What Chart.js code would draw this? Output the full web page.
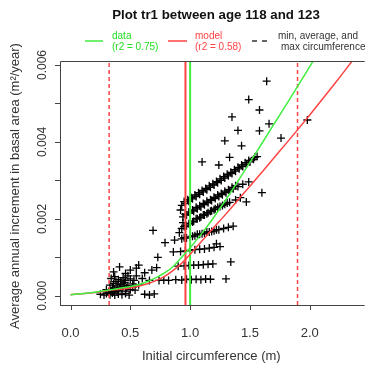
<!DOCTYPE html>
<html><head><meta charset="utf-8">
<script src="https://cdn.jsdelivr.net/npm/chart.js@4/dist/chart.umd.min.js"></script>
<style>html,body{margin:0;padding:0;background:#fff;}#wrap{width:368px;height:365px;position:relative;}</style>
</head><body><div id="wrap"><canvas id="c" width="368" height="365"></canvas></div>
<script>
const titleText = "Plot tr1 between age 118 and 123";
const xTitle = "Initial circumference (m)";
const yTitle = "Average annual increment in basal area (m\u00B2/year)";
const xTicks = [0, 0.5, 1.0, 1.5, 2.0];
const xTickLabels = ["0.0", "0.5", "1.0", "1.5", "2.0"];
const yTicks = [0, 0.001, 0.002, 0.003, 0.004, 0.005, 0.006];
const yTickLabels = ["0.000", "", "0.002", "", "0.004", "", "0.006"];
const legendLabels = ["data", "(r2 = 0.75)", "model", "(r2 = 0.58)", "min, average, and", "max circumference"];

// vertical reference lines (circumference, m)
const minCirc = 0.323;
const avgCircModel = 0.961;
const avgCircData = 1.0;
const maxCirc = 1.898;

// fitted curves [x, y]
const dataCurve = [[0,0.00003],[0.12,0.00006],[0.24,0.00011],[0.32,0.00015],[0.42,0.0002],[0.51,0.00025],[0.58,0.0003],[0.65,0.00038],[0.72,0.00048],[0.79,0.0006],[0.86,0.00077],[0.92,0.00097],[1.0,0.00125],[1.1,0.00163],[1.2,0.00205],[1.31,0.00255],[1.4,0.00298],[1.5,0.00347],[1.6,0.00396],[1.7,0.00446],[1.8,0.00495],[1.9,0.00545],[2.0,0.00596],[2.1,0.00646]];
const modelCurve = [[0,0.00003],[0.12,0.00006],[0.24,0.0001],[0.32,0.00014],[0.42,0.00017],[0.51,0.00021],[0.58,0.00026],[0.65,0.00032],[0.72,0.0004],[0.79,0.00051],[0.85,0.00064],[0.92,0.00082],[1.0,0.00108],[1.1,0.00143],[1.2,0.00178],[1.3,0.00213],[1.4,0.00249],[1.5,0.00285],[1.6,0.00321],[1.7,0.00358],[1.8,0.00395],[1.9,0.00432],[2.0,0.0047],[2.1,0.00509],[2.2,0.00548],[2.3,0.00588],[2.45,0.0065]];

// observations [circumference, increment]
const obsLow = [[0.25,0.00004],[0.28,0.00002],[0.3,0.00006],[0.33,0.00003],[0.35,0.00007],[0.37,0.00002],[0.4,0.00005],[0.43,0.00003],[0.46,0.00006],[0.49,0.00002],[0.62,0.00004],[0.66,0.00002],[0.7,0.00005],
  [0.3,0.00016],[0.34,0.00013],[0.37,0.00018],[0.4,0.00014],[0.43,0.00019],[0.46,0.00012],[0.5,0.00016],[0.54,0.00015],
  [0.33,0.00028],[0.36,0.00032],[0.39,0.00026],[0.42,0.0003],[0.45,0.00034],[0.48,0.00027],[0.52,0.00031],[0.57,0.00029],
  [0.34,0.00045],[0.37,0.0005],[0.4,0.00042],[0.44,0.00047],[0.5,0.00044],[0.55,0.00052],
  [0.36,0.00062],[0.41,0.00075],[0.46,0.00058],[0.5,0.00067],[0.55,0.00072],[0.57,0.0008],[0.62,0.0006],[0.68,0.00067],[0.72,0.00073],[0.6,0.00045],[0.66,0.0004],
  [0.32,0.00009],[0.36,0.00011],[0.39,0.0001],[0.41,0.00022],[0.44,0.00024],[0.47,0.0002],[0.38,0.00037],[0.42,0.00038],[0.46,0.0004],[0.35,0.0002],[0.52,0.00022],[0.48,0.00052],[0.53,0.0004]];
const obsMid = [[0.73,0.001],[0.79,0.00138],[0.69,0.0017],[0.87,0.00145],[0.86,0.00114],[0.91,0.00164],[0.94,0.0019],[0.92,0.00223]];
const obsRows = [
  [0.74,0.0004],[0.78,0.00041],[0.82,0.0004],[0.88,0.00042],[0.93,0.00041],[0.97,0.00043],[1.01,0.00042],[1.05,0.00043],[1.09,0.00042],[1.13,0.00044],[1.17,0.00043],[1.3,0.00044],
  [0.9,0.00077],[0.95,0.00078],[0.99,0.00079],[1.03,0.0008],[1.07,0.0008],[1.11,0.00081],[1.15,0.00082],[1.19,0.00083],[1.34,0.00088],
  [0.92,0.00115],[0.96,0.00117],[1.0,0.00118],[1.04,0.0012],[1.08,0.00121],[1.12,0.00122],[1.16,0.00124],[1.2,0.00126],[1.25,0.00128],[1.22,0.00135],
  [0.93,0.00148],[0.97,0.0015],[1.0,0.00153],[1.04,0.00156],[1.08,0.0016],[1.12,0.00163],[1.16,0.00166],[1.2,0.00169],[1.24,0.00172],[1.28,0.00175],[1.32,0.00178],[1.36,0.00181],
  [0.95,0.00151],[1.02,0.00155],[1.06,0.0016],[1.1,0.00161],[1.14,0.00166],[1.18,0.00167],[1.22,0.00172]];
const obsStreaks = [
  [0.93,0.00175],[0.97,0.00182],[1.0,0.00188],[1.03,0.00194],[1.06,0.002],[1.09,0.00205],[1.12,0.0021],[1.15,0.00216],[1.18,0.00221],[1.21,0.00226],[1.25,0.00232],[1.29,0.00238],[1.33,0.00243],[1.38,0.00249],[1.42,0.00255],[1.47,0.00244],
  [0.95,0.0018],[0.99,0.00187],[1.02,0.00192],[1.05,0.002],[1.08,0.00203],[1.11,0.0021],[1.14,0.00213],[1.17,0.0022],[1.2,0.00224],[1.23,0.0023],[1.27,0.00235],[1.31,0.00241],
  [0.94,0.00205],[0.97,0.0021],[1.0,0.00215],[1.03,0.0022],[1.06,0.00226],[1.09,0.00231],[1.12,0.00237],[1.15,0.00242],[1.18,0.00248],[1.21,0.00253],[1.24,0.00258],[1.27,0.00263],[1.3,0.00268],[1.33,0.00273],[1.36,0.00278],[1.4,0.00284],[1.44,0.0029],[1.49,0.00296],[1.6,0.00268],
  [0.96,0.00212],[0.99,0.00218],[1.02,0.00223],[1.05,0.0023],[1.08,0.00234],[1.11,0.0024],[1.14,0.00246],[1.17,0.0025],[1.2,0.00256],[1.23,0.00262],[1.26,0.00266],[1.29,0.00272],[1.32,0.00276],[1.35,0.00282],[1.38,0.00286],
  [0.93,0.00235],[0.96,0.0024],[0.99,0.00246],[1.02,0.00252],[1.05,0.00258],[1.08,0.00264],[1.11,0.0027],[1.14,0.00276],[1.17,0.00282],[1.2,0.00288],[1.23,0.00294],[1.26,0.003],[1.29,0.00306],[1.32,0.00312],[1.35,0.00318],[1.38,0.00324],[1.41,0.0033],[1.44,0.00336],[1.47,0.00342],[1.5,0.00348],[1.53,0.00355],[1.56,0.00362],
  [0.95,0.00245],[0.98,0.0025],[1.01,0.00255],[1.04,0.00262],[1.07,0.00268],[1.1,0.00274],[1.13,0.00279],[1.16,0.00286],[1.19,0.00291],[1.22,0.00297],[1.25,0.00304],[1.28,0.0031],[1.31,0.00316],[1.34,0.00321],[1.37,0.00328],[1.4,0.00334],[1.43,0.0034],[1.46,0.00346],[1.49,0.00352]];
const obsHigh = [[1.1,0.00348],[1.24,0.0034],[1.33,0.0036],[1.43,0.0039],[1.29,0.00403],[1.4,0.0043],[1.58,0.00429],[1.66,0.00447],[1.35,0.00465],[1.58,0.00483],[1.49,0.0051],[1.64,0.00558],[1.76,0.0041],[1.98,0.00457],[1.54,0.0036]];

const FONT = '"Liberation Sans", Arial, Helvetica, sans-serif';
const GREEN = '#40ee40';
const RED = '#ff4343';
const xMin = -0.0879, xMax = 2.4429;
const yMin = -0.000239, yMax = 0.006104;

const toPts = arr => arr.map(p => ({x: p[0], y: p[1]}));
const vline = v => [{x: v, y: yMin}, {x: v, y: yMax}];
const allObs = [].concat(obsLow, obsMid, obsRows, obsStreaks, obsHigh);

const decor = {
  id: 'decor',
  afterDraw(chart) {
    const {ctx, chartArea: a, scales: {x, y}} = chart;
    ctx.save();
    ctx.strokeStyle = '#444';
    ctx.lineWidth = 1;
    ctx.beginPath();
    ctx.moveTo(a.left + 0.5, a.bottom + 0.5);
    ctx.lineTo(a.left + 0.5, a.top + 0.5);
    ctx.lineTo(a.right + 2, a.top + 0.5);
    ctx.moveTo(a.left, a.bottom + 0.5);
    ctx.lineTo(a.right + 2, a.bottom + 0.5);
    xTicks.forEach(v => {
      const px = Math.round(x.getPixelForValue(v)) + 0.5;
      ctx.moveTo(px, a.bottom); ctx.lineTo(px, a.bottom + 5);
    });
    yTicks.forEach(v => {
      const py = Math.round(y.getPixelForValue(v)) + 0.5;
      ctx.moveTo(a.left, py); ctx.lineTo(a.left - 5, py);
    });
    ctx.stroke();

    ctx.fillStyle = '#333';
    ctx.font = '13px ' + FONT;
    ctx.textAlign = 'center';
    ctx.textBaseline = 'alphabetic';
    xTicks.forEach((v, i) => ctx.fillText(xTickLabels[i], x.getPixelForValue(v), 337));
    ctx.fillText(xTitle, (a.left + a.right) / 2, 360);

    ctx.font = '12px ' + FONT;
    ctx.textBaseline = 'middle';
    yTicks.forEach((v, i) => {
      if (!yTickLabels[i]) return;
      ctx.save();
      ctx.translate(43, y.getPixelForValue(v));
      ctx.rotate(-Math.PI / 2);
      ctx.fillText(yTickLabels[i], 0, 0);
      ctx.restore();
    });
    ctx.save();
    ctx.font = '13px ' + FONT;
    ctx.textBaseline = 'alphabetic';
    ctx.translate(18.5, (a.top + a.bottom) / 2 + 3);
    ctx.rotate(-Math.PI / 2);
    ctx.fillText(yTitle, 0, 0);
    ctx.restore();

    // title
    ctx.fillStyle = '#111';
    ctx.font = 'bold 13.3px ' + FONT;
    ctx.textBaseline = 'alphabetic';
    ctx.fillText(titleText, 216, 19);

    // legend
    ctx.lineWidth = 1.5;
    ctx.strokeStyle = GREEN;
    ctx.beginPath(); ctx.moveTo(85, 41); ctx.lineTo(103, 41); ctx.stroke();
    ctx.strokeStyle = RED;
    ctx.beginPath(); ctx.moveTo(168, 41); ctx.lineTo(187, 41); ctx.stroke();
    ctx.strokeStyle = '#333';
    ctx.beginPath(); ctx.moveTo(252, 41); ctx.lineTo(257, 41); ctx.moveTo(262, 41); ctx.lineTo(267, 41); ctx.stroke();
    ctx.font = '10px ' + FONT;
    ctx.textAlign = 'left';
    ctx.fillStyle = '#22dd22';
    ctx.fillText(legendLabels[0], 112, 39);
    ctx.fillText(legendLabels[1], 112, 50);
    ctx.fillStyle = RED;
    ctx.fillText(legendLabels[2], 195, 39);
    ctx.fillText(legendLabels[3], 195, 50);
    ctx.fillStyle = '#333';
    ctx.fillText(legendLabels[4], 278, 39);
    ctx.fillText(legendLabels[5], 281, 50);
    ctx.restore();
  }
};

new Chart(document.getElementById('c'), {
  type: 'scatter',
  data: {
    datasets: [
      {type: 'line', data: toPts(dataCurve), borderColor: GREEN, borderWidth: 1.5, pointRadius: 0, cubicInterpolationMode: 'monotone', fill: false, order: 1, clip: 0},
      {type: 'line', data: toPts(modelCurve), borderColor: RED, borderWidth: 1.5, pointRadius: 0, cubicInterpolationMode: 'monotone', fill: false, order: 1, clip: 0},
      {type: 'line', data: vline(avgCircData), borderColor: GREEN, borderWidth: 2, pointRadius: 0, fill: false, order: 2, clip: 0},
      {type: 'line', data: vline(avgCircModel), borderColor: RED, borderWidth: 2, pointRadius: 0, fill: false, order: 2, clip: 0},
      {type: 'line', data: vline(minCirc), borderColor: RED, borderWidth: 1.5, borderDash: [4, 3], pointRadius: 0, fill: false, order: 2, clip: 0},
      {type: 'line', data: vline(maxCirc), borderColor: RED, borderWidth: 1.5, borderDash: [4, 3], pointRadius: 0, fill: false, order: 2, clip: 0},
      {type: 'scatter', data: toPts(allObs), pointStyle: 'cross', pointRadius: 4, borderColor: '#000', borderWidth: 1.3, backgroundColor: '#000', order: 10}
    ]
  },
  options: {
    responsive: false,
    animation: false,
    events: [],
    layout: {padding: {top: 61, right: 0, left: 0, bottom: 0}},
    plugins: {legend: {display: false}, title: {display: false}, tooltip: {enabled: false}},
    scales: {
      x: {type: 'linear', min: xMin, max: xMax, grid: {display: false}, border: {display: false}, ticks: {display: false},
          afterFit: s => { s.height = 60; }},
      y: {type: 'linear', min: yMin, max: yMax, grid: {display: false}, border: {display: false}, ticks: {display: false},
          afterFit: s => { s.width = 60; }}
    }
  },
  plugins: [decor]
});
</script>
</body></html>
